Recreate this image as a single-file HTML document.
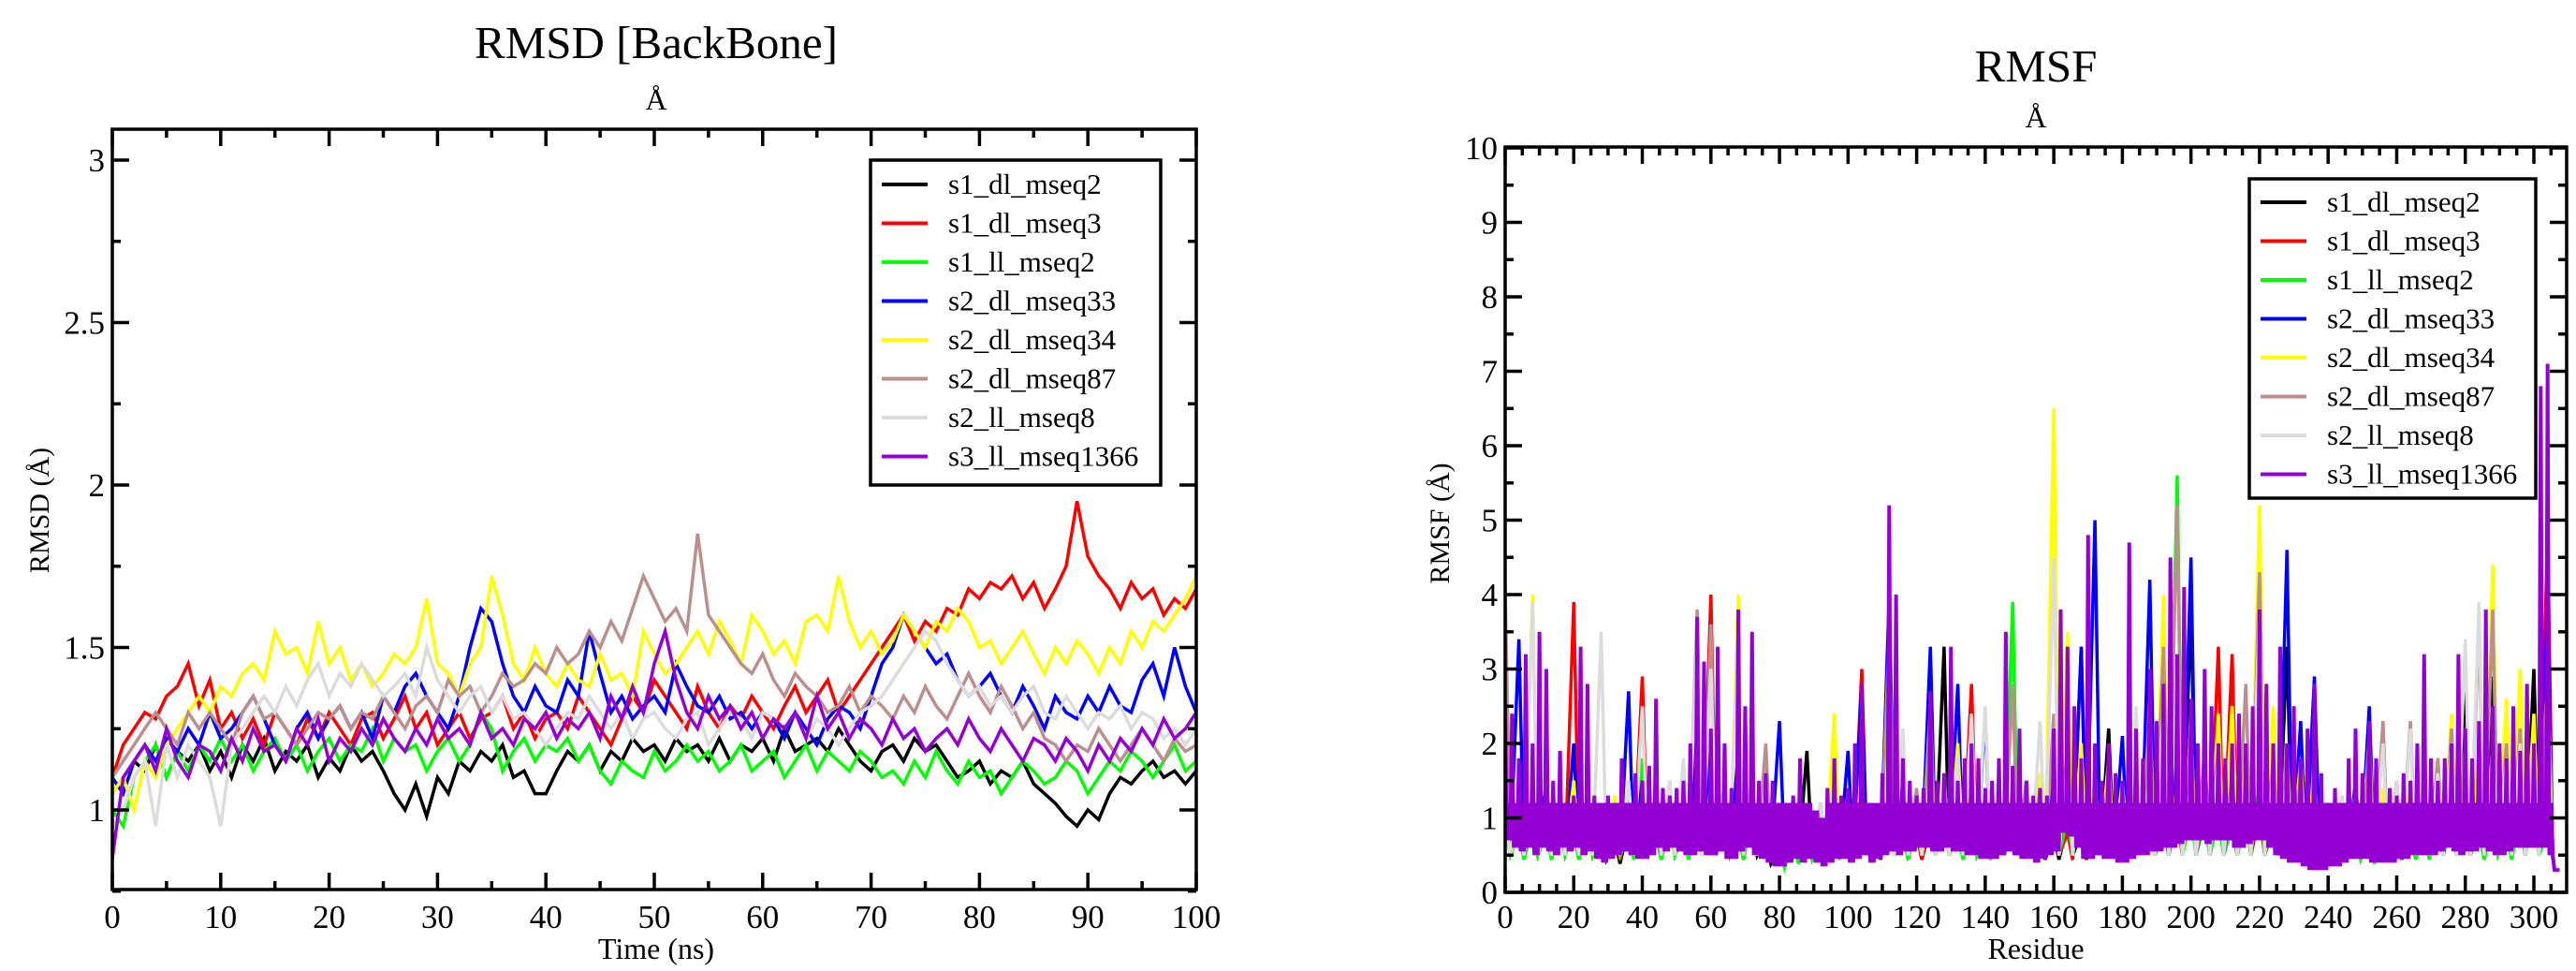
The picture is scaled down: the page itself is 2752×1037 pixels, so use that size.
<!DOCTYPE html>
<html><head><meta charset="utf-8"><style>
html,body{margin:0;padding:0;background:#fff;}
svg{display:block;font-family:"Liberation Serif",serif;}
</style></head><body>
<svg id="chart" width="2752" height="1037" viewBox="0 0 2752 1037" xmlns="http://www.w3.org/2000/svg">
<defs>
<clipPath id="clipL"><rect x="120" y="138" width="1158" height="812"/></clipPath>
<clipPath id="clipR"><rect x="1608" y="157" width="1134" height="796"/></clipPath>
</defs>
<g id="left"></g>
<g id="right"></g>
</svg>
<script>
const seriesNames=["s1_dl_mseq2","s1_dl_mseq3","s1_ll_mseq2","s2_dl_mseq33","s2_dl_mseq34","s2_dl_mseq87","s2_ll_mseq8","s3_ll_mseq1366"];
const seriesColors=["#000000","#ff0000","#00ff00","#0000ff","#ffff00","#bc8f8f","#dcdcdc","#9400d3"];
const rmsdXTicks=[0,10,20,30,40,50,60,70,80,90,100];
const rmsdYTicks=[1,1.5,2,2.5,3];
const rmsfXTicks=[0,20,40,60,80,100,120,140,160,180,200,220,240,260,280,300];
const rmsfYTicks=[0,1,2,3,4,5,6,7,8,9,10];
const rmsdBlack=[1.05,1.1,1.15,1.12,1.2,1.1,1.18,1.15,1.2,1.12,1.18,1.1,1.2,1.15,1.22,1.12,1.18,1.15,1.2,1.1,1.16,1.12,1.2,1.15,1.18,1.12,1.05,1.0,1.08,0.98,1.1,1.05,1.15,1.12,1.18,1.15,1.2,1.1,1.12,1.05,1.05,1.12,1.18,1.15,1.2,1.12,1.18,1.15,1.22,1.18,1.2,1.15,1.22,1.18,1.2,1.15,1.22,1.15,1.2,1.18,1.22,1.15,1.25,1.18,1.2,1.22,1.18,1.25,1.2,1.15,1.12,1.18,1.2,1.15,1.22,1.18,1.2,1.15,1.1,1.12,1.15,1.08,1.12,1.1,1.15,1.08,1.05,1.02,0.98,0.95,1.0,0.97,1.05,1.1,1.08,1.12,1.15,1.1,1.12,1.08,1.12];
const rmsdRed=[1.1,1.2,1.25,1.3,1.28,1.35,1.38,1.45,1.32,1.4,1.25,1.3,1.22,1.28,1.2,1.3,1.25,1.2,1.28,1.22,1.3,1.25,1.2,1.28,1.3,1.22,1.28,1.35,1.25,1.3,1.2,1.25,1.3,1.22,1.28,1.3,1.35,1.25,1.3,1.22,1.28,1.3,1.25,1.35,1.3,1.25,1.2,1.28,1.35,1.3,1.4,1.35,1.3,1.25,1.38,1.3,1.25,1.32,1.28,1.35,1.3,1.25,1.32,1.38,1.3,1.35,1.4,1.3,1.35,1.4,1.45,1.5,1.55,1.6,1.52,1.58,1.55,1.62,1.6,1.68,1.65,1.7,1.68,1.72,1.65,1.7,1.62,1.68,1.75,1.95,1.78,1.72,1.68,1.62,1.7,1.65,1.68,1.6,1.65,1.62,1.68];
const rmsdGreen=[1.0,0.95,1.1,1.15,1.2,1.1,1.18,1.12,1.2,1.15,1.22,1.15,1.2,1.12,1.18,1.22,1.15,1.2,1.12,1.18,1.22,1.15,1.2,1.18,1.25,1.15,1.22,1.18,1.2,1.12,1.18,1.22,1.15,1.2,1.3,1.25,1.12,1.18,1.22,1.15,1.2,1.18,1.22,1.15,1.2,1.12,1.08,1.15,1.12,1.1,1.18,1.12,1.15,1.2,1.15,1.18,1.12,1.15,1.2,1.12,1.15,1.18,1.1,1.15,1.2,1.12,1.18,1.15,1.12,1.18,1.15,1.1,1.12,1.08,1.15,1.1,1.18,1.12,1.08,1.15,1.1,1.12,1.05,1.1,1.15,1.12,1.08,1.1,1.15,1.12,1.05,1.1,1.15,1.12,1.18,1.15,1.1,1.15,1.2,1.12,1.15];
const rmsdBlue=[1.1,1.05,1.15,1.2,1.15,1.22,1.18,1.25,1.2,1.3,1.22,1.25,1.3,1.35,1.28,1.2,1.15,1.25,1.3,1.22,1.28,1.32,1.25,1.3,1.22,1.35,1.3,1.38,1.42,1.35,1.3,1.25,1.35,1.5,1.62,1.58,1.45,1.35,1.3,1.38,1.32,1.3,1.4,1.35,1.55,1.42,1.3,1.35,1.28,1.32,1.35,1.3,1.45,1.38,1.32,1.3,1.35,1.28,1.3,1.25,1.3,1.28,1.22,1.3,1.25,1.2,1.28,1.32,1.3,1.25,1.35,1.45,1.5,1.6,1.55,1.5,1.45,1.48,1.4,1.35,1.38,1.42,1.35,1.3,1.38,1.32,1.25,1.35,1.3,1.28,1.35,1.3,1.38,1.32,1.3,1.4,1.45,1.35,1.5,1.38,1.3];
const rmsdYellow=[1.05,1.1,1.0,1.15,1.1,1.2,1.25,1.3,1.35,1.3,1.38,1.35,1.42,1.45,1.4,1.55,1.48,1.5,1.42,1.58,1.45,1.5,1.4,1.45,1.38,1.42,1.48,1.45,1.5,1.65,1.45,1.42,1.35,1.45,1.5,1.72,1.6,1.45,1.4,1.5,1.42,1.38,1.45,1.4,1.38,1.48,1.4,1.42,1.35,1.55,1.48,1.42,1.45,1.5,1.55,1.48,1.58,1.52,1.45,1.6,1.55,1.48,1.52,1.45,1.58,1.6,1.55,1.72,1.58,1.5,1.55,1.48,1.52,1.6,1.55,1.5,1.58,1.55,1.62,1.58,1.5,1.52,1.45,1.5,1.55,1.48,1.42,1.5,1.45,1.52,1.48,1.42,1.5,1.45,1.55,1.5,1.58,1.55,1.6,1.65,1.72];
const rmsdBrown=[1.1,1.15,1.2,1.25,1.3,1.25,1.2,1.3,1.25,1.3,1.25,1.2,1.3,1.35,1.28,1.3,1.25,1.2,1.25,1.3,1.28,1.32,1.25,1.3,1.28,1.35,1.3,1.25,1.32,1.35,1.3,1.4,1.35,1.38,1.3,1.35,1.42,1.38,1.4,1.45,1.42,1.5,1.45,1.48,1.55,1.5,1.58,1.52,1.62,1.72,1.65,1.58,1.62,1.55,1.85,1.6,1.55,1.5,1.45,1.42,1.48,1.4,1.35,1.42,1.38,1.35,1.3,1.32,1.38,1.3,1.35,1.32,1.28,1.35,1.3,1.38,1.32,1.28,1.35,1.42,1.35,1.3,1.38,1.32,1.25,1.3,1.22,1.2,1.15,1.2,1.18,1.25,1.2,1.15,1.2,1.25,1.2,1.15,1.22,1.18,1.2];
const rmsdGray=[0.95,1.0,1.1,1.15,0.95,1.2,1.1,1.2,1.15,1.1,0.95,1.2,1.25,1.3,1.35,1.3,1.38,1.32,1.4,1.45,1.35,1.42,1.38,1.45,1.4,1.35,1.38,1.42,1.35,1.5,1.4,1.35,1.3,1.35,1.38,1.3,1.35,1.28,1.3,1.25,1.2,1.25,1.3,1.28,1.35,1.3,1.25,1.3,1.22,1.28,1.3,1.25,1.22,1.28,1.3,1.2,1.25,1.3,1.28,1.22,1.3,1.28,1.25,1.3,1.22,1.28,1.25,1.2,1.25,1.3,1.32,1.35,1.4,1.45,1.5,1.55,1.52,1.45,1.4,1.35,1.38,1.32,1.35,1.3,1.35,1.38,1.3,1.28,1.35,1.3,1.25,1.3,1.28,1.32,1.25,1.3,1.28,1.22,1.25,1.2,1.25];
const rmsdPurple=[0.85,1.1,1.15,1.2,1.12,1.25,1.15,1.1,1.2,1.18,1.12,1.22,1.15,1.25,1.18,1.2,1.15,1.25,1.2,1.28,1.15,1.22,1.18,1.25,1.2,1.28,1.22,1.18,1.25,1.2,1.28,1.22,1.25,1.2,1.3,1.22,1.25,1.2,1.28,1.25,1.3,1.22,1.28,1.25,1.3,1.22,1.35,1.28,1.38,1.3,1.45,1.55,1.4,1.3,1.25,1.35,1.28,1.32,1.25,1.3,1.22,1.28,1.25,1.3,1.22,1.35,1.25,1.3,1.22,1.28,1.25,1.2,1.28,1.22,1.25,1.18,1.22,1.25,1.2,1.28,1.22,1.18,1.25,1.2,1.15,1.22,1.2,1.15,1.22,1.18,1.12,1.2,1.15,1.22,1.18,1.25,1.2,1.28,1.22,1.25,1.3];
const rmsdTimeMax=100;
const rmsfBlack=[1.0,0.9,0.9,0.8,0.9,0.8,0.9,0.8,0.7,0.9,1.1,0.8,0.9,0.8,1.0,0.9,0.9,0.8,1.1,0.7,0.6,0.8,1.9,0.7,0.8,0.9,1.0,0.8,1.2,0.9,0.8,0.9,3.3,1.0,0.9,0.8,1.0,0.9,1.2,0.8,0.8,0.9,0.8,1.0,2.2,1.2,0.9,1.5,1.0,1.2,3.8,1.0,1.1,0.9,1.0,1.1,0.9,3.3,1.0,0.8,0.7,0.9,0.8,1.0,0.9,0.8,1.0,0.9,1.2,0.9,2.8,1.0,2.9,1.2,1.5,3.0,1.5];
const rmsfRed=[1.0,1.2,0.9,1.5,0.9,3.9,1.0,0.9,0.8,1.0,2.9,1.0,1.1,0.9,1.5,4.0,1.2,1.3,1.0,0.8,1.0,0.9,1.1,0.8,1.4,0.9,3.0,1.0,0.9,1.2,0.8,1.0,1.0,0.9,2.8,1.0,1.1,1.0,1.2,1.0,1.7,0.8,3.3,1.0,0.9,1.1,1.0,0.9,1.3,1.0,1.5,1.2,3.3,3.2,1.0,1.2,0.9,1.0,1.1,1.0,0.9,0.9,1.0,0.8,2.1,1.0,0.9,1.0,1.8,1.0,1.1,1.2,1.0,0.9,1.0,1.4,4.8];
const rmsfGreen=[0.9,0.8,0.9,0.8,0.9,0.8,0.9,0.8,0.9,0.8,1.8,0.8,0.9,0.8,1.0,0.9,0.9,0.8,1.0,0.8,0.6,0.7,0.8,0.7,0.8,0.8,1.0,0.9,1.3,0.8,0.9,3.2,1.0,0.8,0.9,0.8,1.0,3.9,1.0,0.8,1.5,1.0,1.3,0.9,1.0,1.1,0.9,0.9,1.2,5.6,1.0,1.1,1.0,0.9,1.0,1.5,1.0,0.9,0.8,0.7,0.8,0.9,0.8,0.7,0.8,0.9,0.8,0.8,1.0,0.9,1.1,0.8,0.9,0.8,1.0,1.2,0.8];
const rmsfBlue=[1.2,3.4,1.0,1.5,1.0,2.0,1.2,1.0,1.1,2.7,1.5,1.0,1.2,1.4,2.2,2.2,1.4,1.9,1.3,1.2,2.3,1.0,1.1,1.2,1.0,1.9,2.8,1.0,4.0,1.9,1.2,3.3,1.2,2.8,1.5,2.4,1.3,1.0,1.5,0.8,1.5,1.6,3.3,5.0,1.2,2.1,1.4,4.2,1.3,2.0,4.5,1.5,1.6,1.2,1.8,5.0,1.4,4.6,2.3,2.9,1.0,0.9,1.5,2.5,1.2,1.5,1.1,1.3,1.4,1.2,1.7,1.8,1.5,1.9,1.8,2.3,4.0];
const rmsfYellow=[1.1,1.0,4.0,1.2,1.0,1.5,1.1,1.0,1.3,1.0,1.2,1.3,1.0,1.1,1.2,1.3,1.4,4.0,1.2,1.1,1.0,1.2,1.1,1.0,2.4,1.2,1.5,1.0,1.3,1.2,1.1,1.3,1.2,2.0,1.5,1.3,1.2,1.4,1.5,1.6,6.5,3.5,2.0,1.5,1.8,1.2,1.4,1.6,4.0,1.5,2.2,1.8,2.4,2.5,2.0,5.2,2.5,1.9,1.8,1.6,1.2,1.3,1.2,1.5,1.4,1.3,1.4,1.6,1.8,2.4,1.9,2.0,4.4,2.6,3.0,2.4,3.0];
const rmsfBrown=[4.1,1.2,1.0,1.1,1.0,1.3,1.2,1.0,1.1,1.3,1.2,1.2,1.5,1.3,3.8,3.6,1.4,1.3,1.4,2.0,1.2,1.0,1.1,1.2,1.5,1.2,1.4,1.1,3.5,1.3,1.4,2.5,1.3,1.2,1.4,1.3,1.5,2.8,1.5,1.4,2.4,2.0,1.5,1.3,1.6,1.5,1.8,2.5,3.3,5.2,2.2,1.9,2.0,1.6,2.8,4.3,1.8,2.0,1.6,1.3,1.2,1.3,1.4,2.1,2.3,1.5,2.3,1.4,1.8,2.2,2.0,3.6,3.8,2.0,2.2,1.8,2.5];
const rmsfGray=[1.0,1.2,3.9,1.0,1.3,1.1,1.2,3.5,1.0,1.5,2.5,1.6,1.5,1.8,3.6,3.0,1.5,3.7,1.6,1.4,1.2,1.3,1.1,1.2,1.5,1.2,1.3,1.1,1.3,2.2,1.2,1.4,1.6,1.8,2.4,2.5,1.5,1.3,1.2,2.3,4.5,1.8,1.6,1.4,1.3,1.5,2.5,1.6,2.5,3.0,1.5,1.6,1.8,1.4,1.5,3.8,1.6,1.5,1.3,1.4,1.2,1.3,1.2,1.4,2.0,1.5,2.2,1.5,1.6,2.0,3.4,3.9,2.0,1.8,2.0,1.9,2.5];
const rmsfOtherStep=4;
const rmsfPurpleHi=[2.5,2.4,1.8,3.2,2.0,3.5,3.0,1.5,1.9,1.2,1.3,3.3,2.8,1.3,1.2,1.3,1.2,1.8,1.2,1.6,1.5,1.7,2.6,1.4,1.3,1.4,1.5,2.0,3.7,3.1,2.2,3.3,2.0,1.4,3.8,2.5,3.5,1.5,1.6,1.5,1.2,1.2,1.3,1.8,1.2,1.1,1.0,1.4,1.8,1.3,1.4,2.0,2.8,1.2,1.2,1.6,5.2,4.0,1.8,1.5,1.3,1.4,2.7,1.5,1.6,3.3,1.5,1.8,2.0,1.8,1.4,1.5,1.8,3.5,1.7,2.2,1.5,1.3,1.4,1.3,2.2,3.8,3.3,2.5,1.8,4.8,2.0,1.5,2.0,1.6,1.5,4.7,2.2,1.8,3.0,2.3,2.8,4.5,3.2,4.1,2.6,2.0,3.0,2.5,2.0,1.8,2.0,2.4,2.0,2.5,3.8,2.8,2.0,3.3,2.0,2.5,1.8,2.2,2.8,1.6,1.2,1.4,1.2,1.8,2.2,1.6,2.3,1.8,1.2,1.4,1.3,1.6,1.5,2.0,3.2,1.8,1.5,1.8,2.0,3.2,2.2,1.8,2.3,3.8,2.5,2.0,1.8,2.5,1.9,2.8,2.0,6.8,7.1,0.3];
const rmsfPurpleLo=[0.7,0.6,0.55,0.6,0.5,0.6,0.55,0.5,0.6,0.55,0.6,0.5,0.55,0.45,0.4,0.45,0.5,0.55,0.5,0.45,0.45,0.5,0.6,0.55,0.6,0.55,0.5,0.5,0.55,0.5,0.5,0.55,0.45,0.45,0.55,0.6,0.5,0.45,0.4,0.35,0.35,0.4,0.45,0.4,0.45,0.4,0.35,0.4,0.45,0.45,0.4,0.45,0.5,0.4,0.45,0.5,0.55,0.5,0.55,0.55,0.6,0.6,0.55,0.55,0.6,0.55,0.55,0.5,0.5,0.45,0.45,0.45,0.5,0.55,0.5,0.45,0.45,0.4,0.45,0.5,0.55,0.8,0.75,0.6,0.45,0.45,0.5,0.45,0.45,0.4,0.4,0.45,0.5,0.5,0.55,0.55,0.6,0.6,0.65,0.7,0.7,0.7,0.65,0.7,0.7,0.7,0.6,0.6,0.65,0.7,0.7,0.6,0.5,0.45,0.4,0.4,0.35,0.3,0.3,0.3,0.35,0.35,0.4,0.45,0.45,0.45,0.4,0.4,0.4,0.4,0.45,0.45,0.5,0.5,0.5,0.5,0.55,0.6,0.55,0.5,0.55,0.55,0.6,0.55,0.5,0.5,0.55,0.6,0.6,0.6,0.6,0.6,0.5,0.3];
const rmsfPurpleStep=2;

const NS="http://www.w3.org/2000/svg";
function mk(tag,attrs,parent){const e=document.createElementNS(NS,tag);for(const k in attrs)e.setAttribute(k,attrs[k]);parent.appendChild(e);return e;}
const xL=t=>120+t*(1278-120)/100;
const yL=v=>950-(v-0.755)*347;
const xR=r=>1608+r*(2707-1608)/300;
const yR=v=>953-v*79.5;

function panel(g,f){
  const fr=mk('rect',{x:f.x0,y:f.y0,width:f.x1-f.x0,height:f.y1-f.y0,fill:'none',stroke:'#000','stroke-width':3.5},g);
  
  
  const tk=mk('g',{stroke:'#000','stroke-width':3.5},g);
  
  
  for(const v of f.xMinor){const x=f.xs(v);mk('line',{x1:x,x2:x,y1:f.y1,y2:f.y1-9},tk);mk('line',{x1:x,x2:x,y1:f.y0,y2:f.y0+9},tk);}
  for(const v of f.xTicks){const x=f.xs(v);mk('line',{x1:x,x2:x,y1:f.y1,y2:f.y1-18},tk);mk('line',{x1:x,x2:x,y1:f.y0,y2:f.y0+18},tk);
    const t=mk('text',{x:x,y:991,'font-size':35,'text-anchor':'middle'},g);t.textContent=v;
    
    }
  for(const v of f.yMinor){const y=f.ys(v);mk('line',{x1:f.x0,x2:f.x0+9,y1:y,y2:y},tk);mk('line',{x1:f.x1,x2:f.x1-9,y1:y,y2:y},tk);}
  for(const v of f.yTicks){const y=f.ys(v);mk('line',{x1:f.x0,x2:f.x0+18,y1:y,y2:y},tk);mk('line',{x1:f.x1,x2:f.x1-18,y1:y,y2:y},tk);
    const t=mk('text',{x:f.x0-8,y:y+12,'font-size':35,'text-anchor':'end'},g);t.textContent=v;
    
    }
}
function texts(g,f){
  let t=mk('text',{x:f.cx,y:f.ty,'font-size':49,'text-anchor':'middle'},g);t.textContent=f.title;
  
  
  t=mk('text',{x:f.cx,y:f.sy,'font-size':32,'text-anchor':'middle'},g);t.textContent='Å';
  
  
  t=mk('text',{x:f.cx,y:1024,'font-size':32,'text-anchor':'middle'},g);t.textContent=f.xt;
  
  
  t=mk('text',{x:0,y:0,'font-size':30,'text-anchor':'middle',transform:`translate(${f.ytx},${f.yty}) rotate(-90)`},g);t.textContent=f.yt;
  
  
}
function legend(g,lx,ly,w,h,ey){
  const lg=mk('g',{},g);
  
  
  mk('rect',{x:lx,y:ly,width:w,height:h,fill:'#fff',stroke:'#000','stroke-width':3.5},lg);
  seriesNames.forEach((n,i)=>{
    const y=ey+i*41.5;
    const e=mk('g',{},lg);
    
    
    mk('line',{x1:lx+12,x2:lx+61,y1:y,y2:y,stroke:seriesColors[i],'stroke-width':4},e);
    const t=mk('text',{x:lx+83,y:y+10,'font-size':31},e);t.textContent=n;
  });
}
// Left RMSD
const L=document.getElementById('left');
const rmsdSeries=[rmsdBlack,rmsdRed,rmsdGreen,rmsdBlue,rmsdYellow,rmsdBrown,rmsdGray,rmsdPurple];
const lineGL=mk('g',{'clip-path':'url(#clipL)'},L);
rmsdSeries.forEach((arr,i)=>{
  const step=rmsdTimeMax/(arr.length-1);
  const pts=arr.map((v,j)=>xL(j*step).toFixed(1)+','+yL(v).toFixed(1)).join(' ');
  const p=mk('polyline',{points:pts,fill:'none',stroke:seriesColors[i],'stroke-width':3.5,'stroke-linejoin':'miter'},lineGL);
  
  
});
const lMinorX=[],lMinorY=[];
for(let v=5;v<100;v+=10)lMinorX.push(v);
for(let v=0.75;v<3.1;v+=0.25)if(Math.abs((v*2)%1)>0.01)lMinorY.push(v);
panel(L,{x0:120,x1:1278,y0:138,y1:950,xs:xL,ys:yL,xTicks:rmsdXTicks,yTicks:rmsdYTicks,xMinor:lMinorX,yMinor:lMinorY});
texts(L,{cx:701,ty:62,sy:117,title:'RMSD [BackBone]',xt:'Time (ns)',yt:'RMSD (Å)',ytx:52,yty:545});
legend(L,930,171,310,347,197);
// Right RMSF
const R=document.getElementById('right');
const rmsfOthers=[rmsfBlack,rmsfRed,rmsfGreen,rmsfBlue,rmsfYellow,rmsfBrown,rmsfGray];
const lineGR=mk('g',{'clip-path':'url(#clipR)'},R);
rmsfOthers.forEach((arr,i)=>{
  const pts=[];
  arr.forEach((v,j)=>{const r=j*rmsfOtherStep;pts.push(xR(r)+','+yR(v));pts.push(xR(r+1.5)+','+yR(Math.min(v,0.9)*0.55));});
  const p=mk('polyline',{points:pts.join(' '),fill:'none',stroke:seriesColors[i],'stroke-width':3.5},lineGR);
  
  
});
{
  const pts=[];
  rmsfPurpleHi.forEach((v,j)=>{const r=j*rmsfPurpleStep;pts.push(xR(r)+','+yR(v));
    const lo=rmsfPurpleLo[j];pts.push(xR(r+0.5)+','+yR(lo));pts.push(xR(r+1)+','+yR(Math.min(1.2,v)));pts.push(xR(r+1.5)+','+yR(lo));});
  const p=mk('polyline',{points:pts.join(' '),fill:'none',stroke:seriesColors[7],'stroke-width':4},lineGR);
  
  
}
const rMinorX=[],rMinorY=[];
for(let v=5;v<310;v+=5)if(v%20)rMinorX.push(v);
for(let v=0.5;v<10;v+=1)rMinorY.push(v);
panel(R,{x0:1608,x1:2742,y0:157,y1:953,xs:xR,ys:yR,xTicks:rmsfXTicks,yTicks:rmsfYTicks,xMinor:rMinorX,yMinor:rMinorY});
texts(R,{cx:2175,ty:87,sy:136,title:'RMSF',xt:'Residue',yt:'RMSF (Å)',ytx:1548,yty:559});
legend(R,2403,191,306,341,216);
</script>
</body></html>
